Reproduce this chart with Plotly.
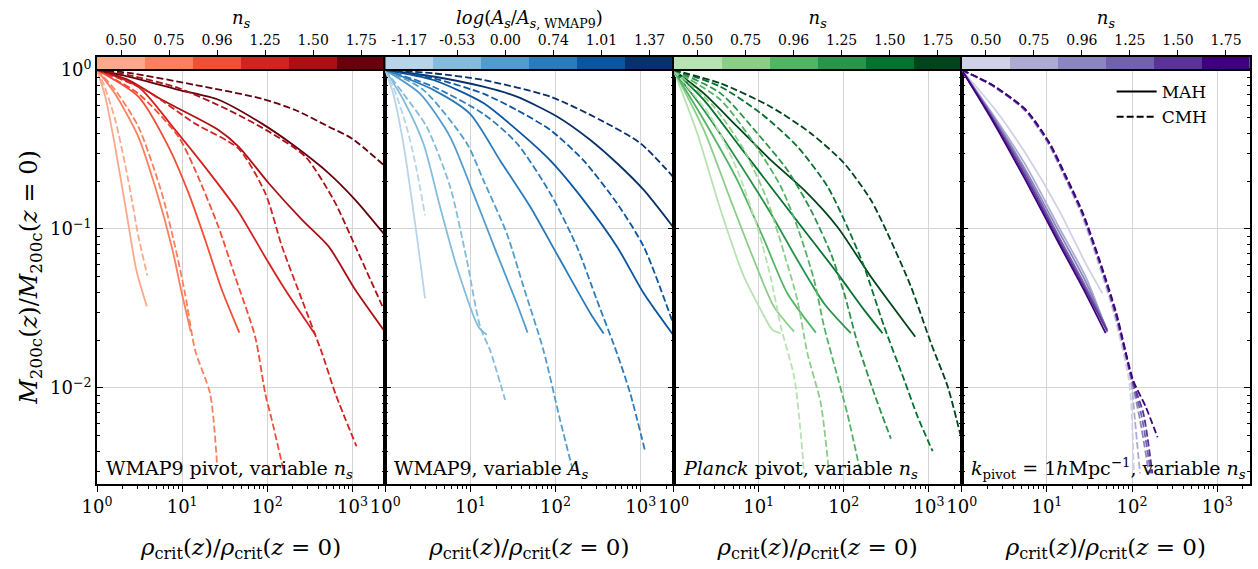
import plotly.graph_objects as go

FONT = "DejaVu Serif"

# ---------------- colour-bar categories ----------------
ns_ticks = ["0.50", "0.75", "0.96", "1.25", "1.50", "1.75"]
as_ticks = ["-1.17", "-0.53", "0.00", "0.74", "1.01", "1.37"]

reds = ["#fca88c", "#fc7f5f", "#f44d38", "#d52221", "#aa1016", "#67000d"]
blues = ["#b7d4ea", "#84bcdb", "#519ccc", "#2b7bba", "#0b559f", "#08306b"]
greens = ["#b7e2b1", "#8ace88", "#53b466", "#2b944b", "#067230", "#00441b"]
purples = ["#d0d1e6", "#adabd2", "#8b86bf", "#7262ac", "#5a3395", "#3f007d"]

x_tickvals = [1, 10, 100, 1000]
x_ticktext = ["10<sup>0</sup>", "10<sup>1</sup>", "10<sup>2</sup>", "10<sup>3</sup>"]
x_minor = [2, 3, 4, 5, 6, 7, 8, 9, 20, 30, 40, 50, 60, 70, 80, 90,
           200, 300, 400, 500, 600, 700, 800, 900, 2000]
y_tickvals = [1, 0.1, 0.01]
y_ticktext = ["10<sup>0</sup>", "10<sup>\u22121</sup>", "10<sup>\u22122</sup>"]
y_minor = [0.003, 0.004, 0.005, 0.006, 0.007, 0.008, 0.009,
           0.02, 0.03, 0.04, 0.05, 0.06, 0.07, 0.08, 0.09,
           0.2, 0.3, 0.4, 0.5, 0.6, 0.7, 0.8, 0.9]

# ---------------- Panel 1: WMAP9 pivot, variable n_s ----------------
p1_mah_x = [
    [1, 1.25, 1.6, 2.2, 2.9, 3.85],
    [1, 1.63, 3.06, 4.81, 7.55, 9.9, 12.6],
    [1, 3.06, 6.9, 11.9, 18.7, 29.3, 46.9],
    [1, 3.06, 8.27, 24.4, 46, 99, 163, 367],
    [1, 2.34, 5.77, 26.7, 46, 104, 256, 527, 1084, 2400],
    [1, 2.34, 9.06, 26.7, 86.5, 213, 527, 1084, 2400],
]
p1_mah_y = [
    [1, 0.68, 0.35, 0.13, 0.055, 0.0325],
    [1, 0.71, 0.38, 0.185, 0.0774, 0.0394, 0.0226],
    [1, 0.68, 0.33, 0.168, 0.085, 0.0413, 0.0223],
    [1, 0.785, 0.42, 0.203, 0.128, 0.0638, 0.0413, 0.0216],
    [1, 0.865, 0.65, 0.42, 0.33, 0.194, 0.114, 0.0774, 0.0413, 0.0226],
    [1, 0.91, 0.75, 0.65, 0.46, 0.33, 0.224, 0.152, 0.0916],
]
p1_cmh_x = [
    [1, 1.19, 1.63, 2.34, 3.06, 3.9],
    [1, 1.63, 3.06, 5.77, 8.27, 10.8, 14.2, 21.3, 25.6],
    [1, 3.06, 9.06, 14.2, 26.7, 42, 72, 94.7, 113, 158],
    [1, 3.67, 14.2, 46, 94.7, 149, 256, 440, 631, 1114],
    [1, 2.34, 9.06, 35.1, 104, 280, 603, 1084, 2400],
    [1, 2.34, 14.2, 86.5, 213, 527, 991, 2400],
]
p1_cmh_y = [
    [1, 0.82, 0.49, 0.2, 0.09, 0.051],
    [1, 0.75, 0.44, 0.168, 0.0774, 0.0394, 0.0173, 0.0092, 0.0034],
    [1, 0.71, 0.38, 0.235, 0.103, 0.05, 0.021, 0.0092, 0.0063, 0.0029],
    [1, 0.75, 0.46, 0.32, 0.168, 0.0774, 0.0357, 0.0165, 0.0092, 0.0043],
    [1, 0.93, 0.77, 0.56, 0.41, 0.285, 0.152, 0.0774, 0.0302],
    [1, 0.96, 0.805, 0.66, 0.56, 0.44, 0.37, 0.249],
]

# ---------------- Panel 2: WMAP9, variable A_s ----------------
p2_mah_x = [
    [1, 1.24, 1.63, 2.13, 2.56, 2.93],
    [1, 1.63, 2.8, 4.4, 6.9, 12.4, 15.6],
    [1, 2.56, 5.77, 10.8, 20.4, 35.1, 46.9],
    [1, 3.67, 9.9, 22.3, 50.4, 113, 256, 367],
    [1, 3.67, 14.2, 35.1, 86.5, 213, 527, 1084, 2400],
    [1, 3.67, 14.2, 35.1, 104, 256, 527, 1084, 2400],
]
p2_mah_y = [
    [1, 0.71, 0.346, 0.132, 0.064, 0.0366],
    [1, 0.65, 0.346, 0.138, 0.058, 0.0243, 0.0216],
    [1, 0.71, 0.38, 0.168, 0.0703, 0.034, 0.0223],
    [1, 0.75, 0.53, 0.27, 0.138, 0.064, 0.0295, 0.022],
    [1, 0.865, 0.62, 0.42, 0.27, 0.152, 0.0774, 0.0394, 0.0216],
    [1, 0.91, 0.785, 0.68, 0.51, 0.363, 0.259, 0.176, 0.103],
]
p2_cmh_x = [
    [1, 1.24, 1.78, 2.34, 2.93],
    [1, 1.63, 3.06, 5.77, 9.06, 13, 17, 25.6],
    [1, 2.8, 9.06, 14.2, 26.7, 42, 72, 113, 163],
    [1, 3.67, 14.2, 35.1, 86.5, 178, 306, 527, 755, 1114],
    [1, 3.67, 14.2, 35.1, 86.5, 213, 527, 1084, 2400],
    [1, 3.67, 14.2, 86.5, 335, 991, 2400],
]
p2_cmh_y = [
    [1, 0.785, 0.44, 0.235, 0.122],
    [1, 0.71, 0.44, 0.185, 0.064, 0.0243, 0.0173, 0.0084],
    [1, 0.75, 0.346, 0.203, 0.094, 0.0434, 0.0173, 0.0063, 0.0029],
    [1, 0.785, 0.53, 0.346, 0.168, 0.0774, 0.0357, 0.0165, 0.0092, 0.0041],
    [1, 0.887, 0.71, 0.56, 0.42, 0.27, 0.145, 0.0774, 0.0255],
    [1, 0.953, 0.865, 0.68, 0.485, 0.346, 0.213],
]

# ---------------- Panel 3: Planck pivot, variable n_s ----------------
p3_mah_x = [
    [1, 1.9, 3.57, 6.72, 10.6, 14.5, 18.2],
    [1, 2.27, 4.69, 8.81, 15.1, 26.1],
    [1, 2.27, 5.61, 11.6, 21.7, 46.9],
    [1, 2.27, 5.61, 13.8, 28.5, 58.7, 121],
    [1, 2.27, 5.61, 13.8, 34.1, 84.2, 173, 285],
    [1, 2.27, 5.61, 13.8, 34.1, 84.2, 208, 690],
]
p3_mah_y = [
    [1, 0.40, 0.132, 0.0501, 0.031, 0.0232, 0.0221],
    [1, 0.42, 0.152, 0.0638, 0.0325, 0.0226],
    [1, 0.485, 0.203, 0.0853, 0.0394, 0.0223],
    [1, 0.56, 0.272, 0.126, 0.0638, 0.034, 0.0221],
    [1, 0.648, 0.346, 0.185, 0.0986, 0.0526, 0.031, 0.0221],
    [1, 0.713, 0.44, 0.272, 0.176, 0.103, 0.0501, 0.021],
]
p3_cmh_x = [
    [1, 2.72, 5.61, 9.64, 13.8, 18.2, 26.1, 31.2, 34.1],
    [1, 2.98, 6.72, 12.6, 19.9, 28.5, 37.4, 53.6, 67.2],
    [1, 3.57, 8.81, 18.2, 28.5, 44.8, 58.7, 84.2, 110, 158],
    [1, 3.57, 9.64, 21.7, 40.9, 70.3, 101, 145, 228, 357],
    [1, 3.57, 10.6, 28.5, 64.3, 110, 173, 298, 513, 736, 1104],
    [1, 3.57, 13.8, 40.9, 101, 208, 326, 614, 1057, 1660, 2336],
]
p3_cmh_y = [
    [1, 0.509, 0.235, 0.103, 0.0501, 0.0243, 0.0118, 0.0052, 0.0029],
    [1, 0.588, 0.314, 0.152, 0.0703, 0.0357, 0.0165, 0.008, 0.0029],
    [1, 0.648, 0.346, 0.185, 0.103, 0.0478, 0.0243, 0.0118, 0.0069, 0.0029],
    [1, 0.713, 0.40, 0.235, 0.132, 0.0703, 0.0394, 0.0191, 0.0092, 0.0048],
    [1, 0.785, 0.534, 0.33, 0.185, 0.103, 0.058, 0.0243, 0.0112, 0.0066, 0.004],
    [1, 0.824, 0.588, 0.40, 0.259, 0.152, 0.094, 0.0434, 0.0191, 0.0102, 0.0051],
]

# ---------------- Panel 4: k_pivot = 1 h/Mpc, variable n_s ----------------
p4_mah_x = [
    [1, 2.49, 5.61, 13.8, 28.5, 44.8],
    [1, 2.27, 5.61, 13.8, 28.5, 46.9],
    [1, 2.27, 5.61, 13.8, 28.5, 49],
    [1, 2.27, 5.61, 13.8, 28.5, 51.3],
    [1, 2.27, 5.61, 13.8, 28.5, 51.3],
    [1, 2.27, 5.61, 13.8, 28.5, 49],
]
p4_mah_y = [
    [1, 0.56, 0.299, 0.132, 0.0608, 0.0394],
    [1, 0.534, 0.253, 0.103, 0.0501, 0.0255],
    [1, 0.521, 0.235, 0.0962, 0.0467, 0.0243],
    [1, 0.509, 0.224, 0.0895, 0.0434, 0.0232],
    [1, 0.497, 0.213, 0.0853, 0.0413, 0.0226],
    [1, 0.485, 0.203, 0.0813, 0.0394, 0.0221],
]
p4_cmh_x = [
    [1, 2.2, 5.4, 10.2, 16.0, 25.0, 39.0, 61, 92, 100, 105],
    [1, 2.22, 5.5, 10.4, 16.2, 25.5, 40, 62.5, 97, 108, 124],
    [1, 2.24, 5.55, 10.5, 16.4, 25.8, 40.5, 63.5, 99, 124, 158],
    [1, 2.25, 5.6, 10.6, 16.5, 26, 40.8, 64, 100, 130, 166],
    [1, 2.27, 5.61, 10.6, 16.6, 26.1, 40.9, 64.3, 101, 136, 173],
    [1, 2.3, 5.7, 10.8, 16.9, 26.5, 41.5, 65.5, 103, 145, 199],
]
p4_cmh_y = [
    [1, 0.805, 0.56, 0.346, 0.213, 0.126, 0.0638, 0.0295, 0.0112, 0.0063, 0.0029],
    [1, 0.805, 0.56, 0.346, 0.213, 0.126, 0.0638, 0.0295, 0.0112, 0.0063, 0.0029],
    [1, 0.805, 0.56, 0.346, 0.213, 0.126, 0.0638, 0.0295, 0.0112, 0.0063, 0.0029],
    [1, 0.805, 0.56, 0.346, 0.213, 0.126, 0.0638, 0.0295, 0.0112, 0.0066, 0.0029],
    [1, 0.805, 0.56, 0.346, 0.213, 0.126, 0.0638, 0.0295, 0.0112, 0.0069, 0.0029],
    [1, 0.805, 0.56, 0.346, 0.213, 0.126, 0.0638, 0.0295, 0.0112, 0.0076, 0.0049],
]

panel_labels = [
    "WMAP9 pivot, variable <i>n<sub>s</sub></i>",
    "WMAP9, variable <i>A<sub>s</sub></i>",
    "<i>Planck</i> pivot, variable <i>n<sub>s</sub></i>",
    "<i>k</i><sub>pivot</sub> = 1<i>h</i>Mpc<sup>\u22121</sup>, variable <i>n<sub>s</sub></i>",
]
cbar_titles = [
    "<i>n<sub>s</sub></i>",
    "<i>log</i>(<i>A<sub>s</sub></i>/<i>A</i><sub><i>s</i>, WMAP9</sub>)",
    "<i>n<sub>s</sub></i>",
    "<i>n<sub>s</sub></i>",
]
cbar_ticks = [ns_ticks, as_ticks, ns_ticks, ns_ticks]
palettes = [reds, blues, greens, purples]
panels = [
    (p1_mah_x, p1_mah_y, p1_cmh_x, p1_cmh_y),
    (p2_mah_x, p2_mah_y, p2_cmh_x, p2_cmh_y),
    (p3_mah_x, p3_mah_y, p3_cmh_x, p3_cmh_y),
    (p4_mah_x, p4_mah_y, p4_cmh_x, p4_cmh_y),
]

# ---------------- geometry ----------------
W, H = 1258, 569
ML, MR, MT, MB = 97, 8, 0, 85
PH = H - MT - MB
main_top = (PH - 70) / PH
cb_bot = (PH - 69) / PH
cb_top = (PH - 57) / PH
LW = 1.8
DASH = "7px,3px"

fig = go.Figure()
layout = dict(
    width=W, height=H,
    margin=dict(l=ML, r=MR, t=MT, b=MB),
    paper_bgcolor="white", plot_bgcolor="white",
    font=dict(family=FONT, color="black", size=15),
    showlegend=True,
    legend=dict(x=0.88, y=0.847, xanchor="left", yanchor="top",
                bgcolor="rgba(0,0,0,0)", font=dict(size=17, family=FONT),
                tracegroupgap=0, itemwidth=40),
    annotations=[],
)

for i in range(4):
    n = i + 1
    xs = "" if n == 1 else str(n)
    d0, d1 = i * 0.25, (i + 1) * 0.25
    mx, my, cx, cy = panels[i]
    pal = palettes[i]
    for k in range(6):
        fig.add_trace(go.Scatter(x=mx[k], y=my[k], mode="lines",
                                 line=dict(color=pal[k], width=LW, shape="spline", smoothing=0.7),
                                 xaxis="x" + xs, yaxis="y" + xs, showlegend=False))
    for k in range(6):
        fig.add_trace(go.Scatter(x=cx[k], y=cy[k], mode="lines",
                                 line=dict(color=pal[k], width=LW, dash=DASH,
                                           shape="spline", smoothing=0.7),
                                 xaxis="x" + xs, yaxis="y" + xs, showlegend=False))
    layout["xaxis" + xs] = dict(
        domain=[d0, d1], anchor="y" + xs, type="log", range=[0, 3.385],
        tickmode="array", tickvals=x_tickvals, ticktext=x_ticktext,
        ticks="outside", ticklen=6, tickwidth=1.2, tickcolor="black",
        minor=dict(tickmode="array", tickvals=x_minor, ticks="outside", ticklen=3,
                   tickwidth=1, tickcolor="black", showgrid=False),
        showline=True, linecolor="black", linewidth=1.6, mirror=True,
        showgrid=True, gridcolor="#d4d4d4", gridwidth=1,
        tickfont=dict(size=18, family=FONT),
        title=dict(text="<i>\u03c1</i><sub>crit</sub>(<i>z</i>)/<i>\u03c1</i><sub>crit</sub>(<i>z</i> = 0)",
                   font=dict(size=23, family=FONT), standoff=22),
        automargin=False, zeroline=False,
    )
    layout["yaxis" + xs] = dict(
        domain=[0, main_top], anchor="x" + xs, type="log", range=[-2.604, 0],
        tickmode="array", tickvals=y_tickvals, ticktext=y_ticktext,
        ticks="inside", ticklen=6, tickwidth=1.2, tickcolor="black",
        minor=dict(tickmode="array", tickvals=y_minor, ticks="inside", ticklen=3,
                   tickwidth=1, tickcolor="black", showgrid=False),
        showline=True, linecolor="black", linewidth=1.6, mirror="allticks",
        showgrid=True, gridcolor="#d4d4d4", gridwidth=1,
        showticklabels=(n == 1), tickfont=dict(size=18, family=FONT),
        automargin=False, zeroline=False,
    )
    if n == 1:
        layout["yaxis"]["title"] = dict(
            text="<i>M</i><sub>200c</sub>(<i>z</i>)/<i>M</i><sub>200c</sub>(<i>z</i> = 0)",
            font=dict(size=24, family=FONT), standoff=6)
    layout["annotations"].append(dict(
        text=panel_labels[i], xref="x" + xs + " domain", yref="y" + xs + " domain",
        x=0.025, y=0.0, xanchor="left", yanchor="bottom", showarrow=False,
        font=dict(size=19, family=FONT)))

    # colour bar as a discrete heatmap on its own axes
    cb = str(n + 4)
    scale = [[j / 5, pal[j]] for j in range(6)]
    fig.add_trace(go.Heatmap(z=[[0, 1, 2, 3, 4, 5]], x=[0, 1, 2, 3, 4, 5], y=[0],
                             zmin=0, zmax=5, colorscale=scale, showscale=False,
                             hoverinfo="skip", xaxis="x" + cb, yaxis="y" + cb))
    layout["xaxis" + cb] = dict(
        domain=[d0, d1], anchor="y" + cb, side="top", range=[-0.5, 5.5],
        tickmode="array", tickvals=[0, 1, 2, 3, 4, 5], ticktext=cbar_ticks[i],
        ticks="outside", ticklen=5, tickwidth=1.2, tickcolor="black",
        showline=True, linecolor="black", linewidth=1.6, mirror=True,
        showgrid=False, zeroline=False, tickfont=dict(size=14, family=FONT),
        title=dict(text=cbar_titles[i], font=dict(size=18, family=FONT), standoff=2),
        automargin=False, fixedrange=True,
    )
    layout["yaxis" + cb] = dict(
        domain=[cb_bot, cb_top], anchor="x" + cb, range=[-0.5, 0.5],
        showticklabels=False, ticks="", showline=True, linecolor="black",
        linewidth=1.6, mirror=True, showgrid=False, zeroline=False,
        automargin=False, fixedrange=True,
    )

# legend entries (line style keys) on panel 4
fig.add_trace(go.Scatter(x=[None], y=[None], mode="lines", name="MAH",
                         line=dict(color="black", width=2), xaxis="x4", yaxis="y4"))
fig.add_trace(go.Scatter(x=[None], y=[None], mode="lines", name="CMH",
                         line=dict(color="black", width=2, dash=DASH), xaxis="x4", yaxis="y4"))

fig.update_layout(**layout)
fig.write_html("out.html")
